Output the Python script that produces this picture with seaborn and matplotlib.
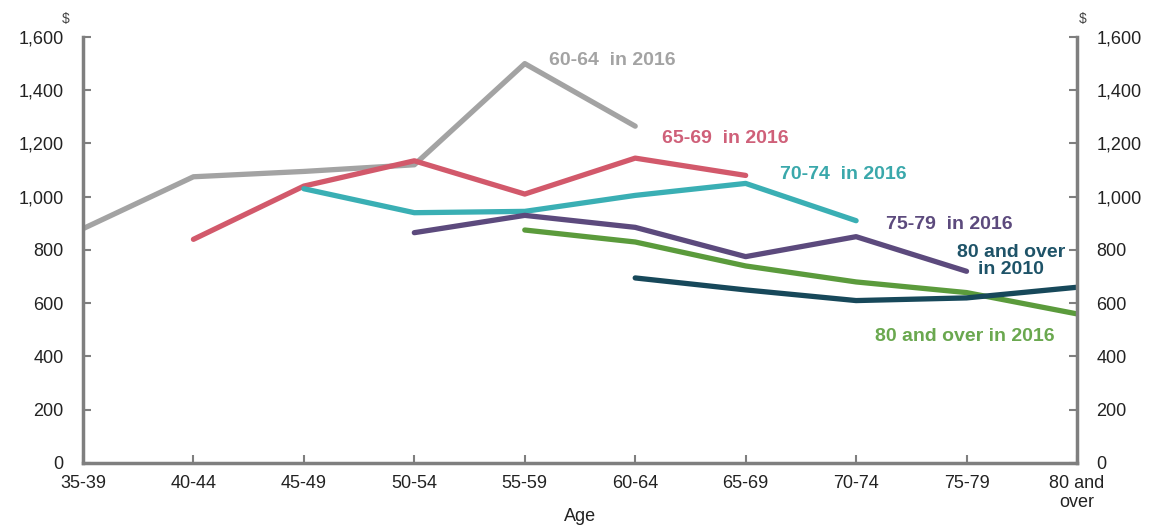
import numpy as np
import pandas as pd
import matplotlib
matplotlib.use("Agg")
from matplotlib import pyplot as plt
import seaborn as sns

ages = ['35-39', '40-44', '45-49', '50-54', '55-59', '60-64', '65-69', '70-74', '75-79', '80 and\nover']
nan = np.nan

# average spending ($) by age, each cohort followed from 2010 to 2016
c6064 = [880, 1075, 1095, 1120, 1500, 1265, nan, nan, nan, nan]
c6569 = [nan, 840, 1040, 1135, 1010, 1145, 1080, nan, nan, nan]
c7074 = [nan, nan, 1030, 940, 945, 1005, 1050, 910, nan, nan]
c7579 = [nan, nan, nan, 865, 930, 885, 775, 850, 720, nan]
c80_16 = [nan, nan, nan, nan, 875, 830, 740, 680, 640, 560]
c80_10 = [nan, nan, nan, nan, nan, 695, 650, 610, 620, 660]

series = {
    '60-64  in 2016': c6064,
    '65-69  in 2016': c6569,
    '70-74  in 2016': c7074,
    '75-79  in 2016': c7579,
    '80 and over in 2016': c80_16,
    '80 and over\nin 2010': c80_10,
}
colours = ['#a3a3a3', '#d2596b', '#3aafb4', '#5c4a7d', '#5b9b3c', '#17485a']
text_colours = ['#a3a3a3', '#cf6079', '#3aa8ab', '#5c4a7d', '#6aa84f', '#1e5368']

rows = []
for name, vals in series.items():
    for i, v in enumerate(vals):
        rows.append({'pos': i, 'value': v, 'cohort': name})
df = pd.DataFrame(rows)

sns.set_style('white')
plt.rcParams['font.family'] = ['Liberation Sans', 'DejaVu Sans']

fig = plt.figure(figsize=(11.51, 5.26), dpi=100)
ax = fig.add_axes([0.0721, 0.1198, 0.8636, 0.8099])

sns.lineplot(data=df, x='pos', y='value', hue='cohort', palette=colours,
             linewidth=3.8, legend=False, ax=ax, solid_capstyle='round')

ax.set_xlim(0, 9)
ax.set_ylim(0, 1600)
ax.set_yticks(range(0, 1601, 200))
ax.set_yticklabels([f'{v:,}' for v in range(0, 1601, 200)])
ax.set_xticks(range(len(ages)))
ax.set_xticklabels(ages, linespacing=1.1)
ax.set_xlabel('Age', fontsize=13, color='#222222')
ax.xaxis.set_label_coords(0.5, -0.105)
ax.set_ylabel('')

for s in ['left', 'right', 'bottom']:
    ax.spines[s].set_color('#7f7f7f')
    ax.spines[s].set_linewidth(2.5)
ax.spines['top'].set_visible(False)
ax.tick_params(axis='both', direction='in', length=6, width=1.5, color='#7f7f7f',
               labelsize=13, labelcolor='#222222', left=True, bottom=True)
ax.tick_params(axis='y', pad=14)
ax.tick_params(axis='x', pad=9)

ax2 = ax.twinx()
ax2.set_ylim(0, 1600)
ax2.set_yticks(range(0, 1601, 200))
ax2.set_yticklabels([f'{v:,}' for v in range(0, 1601, 200)])
for s in ['left', 'right', 'bottom', 'top']:
    ax2.spines[s].set_visible(False)
ax2.tick_params(axis='y', direction='in', length=6, width=1.5, color='#7f7f7f',
                labelsize=13, labelcolor='#222222', right=True, pad=14)
ax2.grid(False)

fig.text(0.0573, 0.963, '$', fontsize=10, color='#444444', ha='center', va='center')
fig.text(0.9410, 0.963, '$', fontsize=10, color='#444444', ha='center', va='center')

# inline series labels
labels = [
    ('60-64  in 2016', 4.22, 1510, 'left'),
    ('65-69  in 2016', 5.24, 1217, 'left'),
    ('70-74  in 2016', 6.31, 1082, 'left'),
    ('75-79  in 2016', 7.27, 895, 'left'),
    ('80 and over in 2016', 8.80, 475, 'right'),
    ('80 and over\nin 2010', 8.40, 760, 'center'),
]
order = list(series.keys())
for (txt, x, y, ha) in labels:
    c = text_colours[order.index(txt)]
    ax.text(x, y, txt, color=c, fontsize=14, fontweight='bold', ha=ha, va='center',
            linespacing=1.0, multialignment='center')

fig.savefig('out.png', dpi=100)
